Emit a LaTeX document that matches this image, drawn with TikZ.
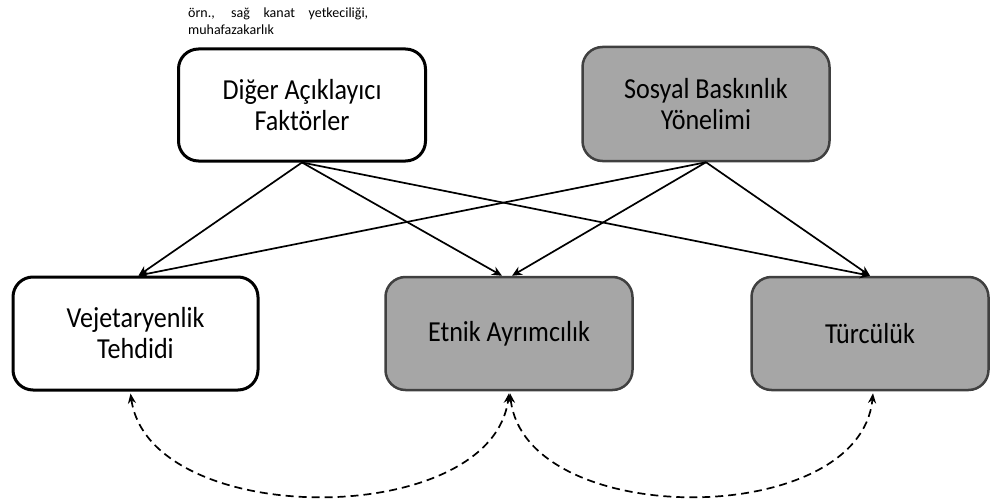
\documentclass[tikz,border=0pt]{standalone}
\usepackage{fontspec}
\setmainfont{Carlito}
\newfontfamily\boxfont[FakeStretch=0.9]{Carlito}
\usetikzlibrary{arrows.meta,calc}
\definecolor{boxgray}{HTML}{A6A6A6}
\definecolor{edgegray}{HTML}{404040}
\tikzset{
  whitebox/.style={draw=black, line width=3pt, fill=white, rounded corners=20pt,
    inner sep=0pt, align=center, font=\boxfont\fontsize{29}{31}\selectfont},
  graybox/.style={draw=edgegray, line width=2.5pt, fill=boxgray, rounded corners=20pt,
    inner sep=0pt, align=center, font=\boxfont\fontsize{29}{31}\selectfont},
  link/.style={line width=1.7pt, -{Stealth[length=10pt,width=9pt]}},
  assoc/.style={line width=1.7pt, dash pattern=on 8pt off 5pt,
    {Stealth[length=10pt,width=8pt]}-{Stealth[length=10pt,width=8pt]}},
}
\begin{document}
\begin{tikzpicture}[x=1pt,y=-1pt]
\useasboundingbox (0,0) rectangle (991,503);
\node[whitebox, minimum width=247pt, minimum height=112pt] (A) at (302,105) {Diğer Açıklayıcı\\Faktörler};
\node[graybox, minimum width=247pt, minimum height=114pt] (B) at (706,104) {Sosyal Baskınlık\\Yönelimi};
\node[whitebox, minimum width=245pt, minimum height=113pt] (C) at (135.5,333.5) {Vejetaryenlik\\Tehdidi};
\node[graybox, minimum width=247pt, minimum height=113pt] (D) at (509,333.5) {Etnik Ayrımcılık};
\node[graybox, minimum width=237pt, minimum height=113pt] (E) at (870,333.5) {Türcülük};
\node[anchor=north west, inner sep=0pt] (N) at (188,8)
  {\parbox{180pt}{\fontsize{14}{16.5}\selectfont\hyphenpenalty=10000\exhyphenpenalty=10000\tolerance=10000 örn., sağ kanat yetkeciliği, muhafazakarlık}};
\draw[link] (A.south) -- ($(C.north)+(3,0)$);
\draw[link] (A.south) -- ($(D.north)+(-7,0)$);
\draw[link] (A.south) -- (E.north);
\draw[link] (B.south) -- ($(C.north)+(3,0)$);
\draw[link] (B.south) -- ($(D.north)+(3,0)$);
\draw[link] (B.south) -- (E.north);
\draw[assoc] ($(C.south)+(-5,2)$) .. controls (150,530) and (492,530) .. ($(D.south)+(0,2)$);
\draw[assoc] ($(D.south)+(1,2)$) .. controls (525,530) and (860,530) .. ($(E.south)+(3,2)$);
\end{tikzpicture}
\end{document}
